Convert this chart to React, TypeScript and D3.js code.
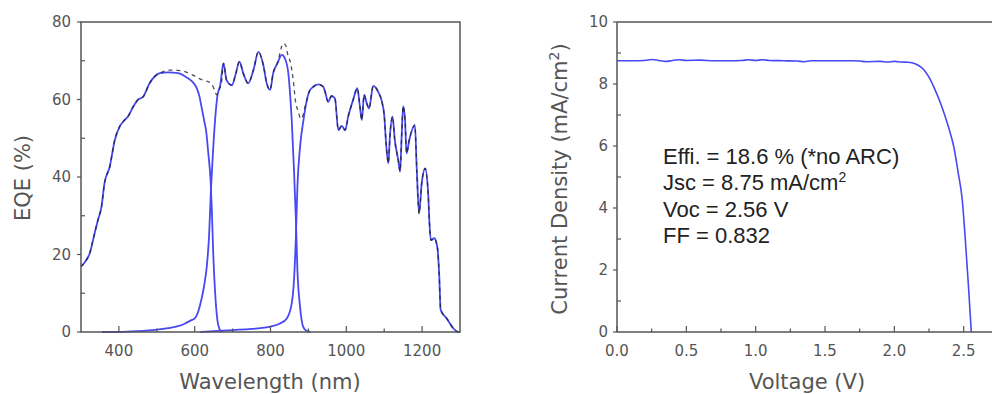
import React from "react";
import * as d3 from "d3";

// ---------- EQE data (wavelength nm, EQE %) ----------
const topWl = [300, 310, 323, 336, 345, 354, 362, 376, 389, 402, 413, 424, 437, 450, 464, 481, 495, 508, 530, 556, 582, 595, 605, 612, 618, 626, 630, 636, 642, 645, 649, 654, 660, 667, 675];
const topEqe = [16.9, 18, 20.3, 25.5, 29, 32.3, 38.4, 42.7, 49.5, 53, 54.5, 55.6, 58, 59.9, 60.7, 64.2, 66, 66.8, 67.0, 66.8, 65.5, 64.5, 63, 61, 58.1, 54, 52, 46, 39, 32, 20, 10, 3, 0.5, 0];

const midWl = [355, 400, 450, 500, 530, 556, 575, 590, 600, 610, 618, 625, 632, 638, 643, 648, 654, 660, 667, 676, 684, 698, 708, 718, 728, 741, 755, 768, 781, 790, 799, 807, 818, 830, 838, 847, 852, 856, 862, 867, 871, 878, 886, 895, 905];
const midEqe = [0, 0, 0.2, 0.6, 1, 1.5, 2.2, 3, 3.5, 5.5, 8.5, 12, 17, 25, 37, 46, 55, 61, 63.5, 69.3, 65, 63.7, 66.5, 69.8, 66.8, 64.2, 67.6, 72.3, 68.9, 64.2, 62.5, 66.8, 69.3, 71.5, 70.6, 66.8, 61, 54.7, 41.8, 28.9, 16, 6.5, 1.4, 0.3, 0];

const botWl = [615, 650, 700, 750, 800, 825, 843, 856, 862, 867, 871, 878, 887, 896, 902, 913, 926, 939, 944, 952, 961, 970, 979, 988, 997, 1005, 1018, 1029, 1036, 1041, 1047, 1054, 1060, 1071, 1084, 1095, 1100, 1105, 1111, 1115, 1122, 1128, 1137, 1142, 1146, 1150, 1155, 1159, 1166, 1181, 1186, 1192, 1199, 1208, 1216, 1219, 1223, 1232, 1240, 1245, 1249, 1265, 1282, 1295, 1300];
const botEqe = [0, 0.2, 0.5, 0.8, 1.4, 2.2, 3.5, 7.4, 13.4, 24.6, 37.5, 47.8, 54.7, 59.9, 62, 63.3, 63.9, 63.3, 62, 59.4, 60.9, 60.3, 52.1, 53.2, 52.1, 55.6, 59.9, 62.9, 58.1, 54.7, 61.2, 59, 57.7, 63.5, 62, 59, 56, 48.7, 43.5, 50.4, 55.6, 49.5, 44.4, 41.4, 50.4, 58.3, 54.7, 46.1, 49.5, 53.4, 41.8, 30.6, 38.4, 42.2, 35.8, 28.9, 23.7, 24.2, 22, 15.1, 5.7, 3.5, 1, 0, 0];

const totWl = [300, 310, 323, 336, 345, 354, 362, 376, 389, 402, 413, 424, 437, 450, 464, 481, 495, 508, 535, 556, 574, 595, 614, 630, 645, 652, 658, 664, 671, 676, 684, 698, 708, 718, 728, 741, 755, 768, 781, 790, 799, 807, 818, 834, 840, 847, 852, 860, 866, 873, 880, 886, 891, 896, 902, 913, 926, 939, 944, 952, 961, 970, 979, 988, 997, 1005, 1018, 1029, 1036, 1041, 1047, 1054, 1060, 1071, 1084, 1095, 1100, 1105, 1111, 1115, 1122, 1128, 1137, 1142, 1146, 1150, 1155, 1159, 1166, 1181, 1186, 1192, 1199, 1208, 1216, 1219, 1223, 1232, 1240, 1245, 1249, 1265, 1282, 1295, 1300];
const totEqe = [16.9, 18, 20.3, 25.5, 29, 32.3, 38.4, 42.7, 49.5, 53, 54.5, 55.6, 58, 59.9, 60.7, 64.2, 66, 66.8, 67.6, 67.5, 67.2, 66.3, 65.3, 64.8, 64, 62.5, 61.2, 62.5, 64.6, 69.3, 65, 63.7, 66.5, 69.8, 66.8, 64.2, 67.6, 72.3, 68.9, 64.2, 62.5, 66.8, 69.3, 74.5, 74, 71, 69.8, 65, 59.5, 57, 55, 56, 58.1, 59.9, 62, 63.3, 63.9, 63.3, 62, 59.4, 60.9, 60.3, 52.1, 53.2, 52.1, 55.6, 59.9, 62.9, 58.1, 54.7, 61.2, 59, 57.7, 63.5, 62, 59, 56, 48.7, 43.5, 50.4, 55.6, 49.5, 44.4, 41.4, 50.4, 58.3, 54.7, 46.1, 49.5, 53.4, 41.8, 30.6, 38.4, 42.2, 35.8, 28.9, 23.7, 24.2, 22, 15.1, 5.7, 3.5, 1, 0, 0];

// ---------- J-V data (V, mA/cm2) ----------
const jvV = [0, 0.1, 0.2, 0.25, 0.3, 0.35, 0.4, 0.45, 0.5, 0.6, 0.7, 0.8, 0.9, 0.95, 1.0, 1.05, 1.1, 1.2, 1.3, 1.35, 1.4, 1.5, 1.6, 1.7, 1.75, 1.8, 1.9, 1.95, 2.0, 2.05, 2.1, 2.15, 2.19, 2.22, 2.25, 2.29, 2.34, 2.39, 2.43, 2.46, 2.49, 2.51, 2.535, 2.555];
const jvJ = [8.75, 8.75, 8.76, 8.79, 8.76, 8.73, 8.76, 8.78, 8.76, 8.77, 8.75, 8.75, 8.76, 8.78, 8.76, 8.78, 8.76, 8.75, 8.74, 8.72, 8.75, 8.75, 8.75, 8.75, 8.74, 8.72, 8.73, 8.71, 8.73, 8.71, 8.70, 8.65, 8.55, 8.42, 8.22, 7.85, 7.3, 6.62, 5.95, 5.15, 4.25, 3.1, 1.45, 0];

// ---------- ticks ----------
const eqeXMajor = [400, 600, 800, 1000, 1200];
const eqeXMinor = [500, 700, 900, 1100];
const eqeYMajor = [0, 20, 40, 60, 80];
const eqeYMinor = [10, 30, 50, 70];
const jvXMajor = [0, 0.5, 1.0, 1.5, 2.0, 2.5];
const jvXMinor = [0.25, 0.75, 1.25, 1.75, 2.25, 2.75];
const jvYMajor = [0, 2, 4, 6, 8, 10];
const jvYMinor = [1, 3, 5, 7, 9];

const annotLines = ["Effi. = 18.6 % (*no ARC)", "Jsc = 8.75 mA/cm", "Voc = 2.56 V", "FF = 0.832"];

const AXIS = "#555";
const LABEL = "#555";
const BLUE = "#4848f4";
const FONT = "'DejaVu Sans', sans-serif";

export default function App() {
  // left panel
  const lx = d3.scaleLinear().domain([300, 1300]).range([81, 460]);
  const ly = d3.scaleLinear().domain([0, 80]).range([332, 22]);
  // right panel
  const rx = d3.scaleLinear().domain([0, 3]).range([617, 1033]);
  const ry = d3.scaleLinear().domain([0, 10]).range([332, 22]);

  const mk = (xs: number[], ys: number[], sx: any, sy: any) =>
    d3
      .line<number>()
      .curve(d3.curveMonotoneX)
      .x((i) => sx(xs[i]))
      .y((i) => sy(ys[i]))(ys.map((_, i) => i)) || "";

  const topPath = mk(topWl, topEqe, lx, ly);
  const midPath = mk(midWl, midEqe, lx, ly);
  const botPath = mk(botWl, botEqe, lx, ly);
  const totPath = mk(totWl, totEqe, lx, ly);
  const jvPath = mk(jvV, jvJ, rx, ry);

  return (
    <svg width={992} height={394} style={{ position: "absolute", left: 0, top: 0, background: "#fff" }}>
      <rect x={0} y={0} width={992} height={394} fill="#fff" />
      {/* ===== Left: EQE ===== */}
      <g>
        <path d={topPath} fill="none" stroke={BLUE} strokeWidth={1.8} />
        <path d={midPath} fill="none" stroke={BLUE} strokeWidth={1.8} />
        <path d={botPath} fill="none" stroke={BLUE} strokeWidth={1.8} />
        <path d={totPath} fill="none" stroke="#222" strokeWidth={1.3} strokeDasharray="4,4" opacity={0.8} />
        <rect x={81} y={22} width={379} height={310} fill="none" stroke={AXIS} strokeWidth={1.5} />
        {eqeXMajor.map((t) => (
          <g key={"lxm" + t}>
            <line x1={lx(t)} x2={lx(t)} y1={332} y2={326} stroke={AXIS} strokeWidth={1.2} />
            <text x={lx(t)} y={356} textAnchor="middle" fontSize={15} fontFamily={FONT} fill={LABEL}>{t}</text>
          </g>
        ))}
        {eqeXMinor.map((t) => (
          <line key={"lxn" + t} x1={lx(t)} x2={lx(t)} y1={332} y2={328.5} stroke={AXIS} strokeWidth={1.2} />
        ))}
        {eqeYMajor.map((t) => (
          <g key={"lym" + t}>
            <line x1={77} x2={81} y1={ly(t)} y2={ly(t)} stroke={AXIS} strokeWidth={1.2} />
            <text x={71} y={ly(t)} dy="0.35em" textAnchor="end" fontSize={15} fontFamily={FONT} fill={LABEL}>{t}</text>
          </g>
        ))}
        {eqeYMinor.map((t) => (
          <line key={"lyn" + t} x1={81} x2={85} y1={ly(t)} y2={ly(t)} stroke={AXIS} strokeWidth={1.2} />
        ))}
        <text x={270} y={389} textAnchor="middle" fontSize={21} fontFamily={FONT} fill={LABEL}>Wavelength (nm)</text>
        <text transform="translate(30,178) rotate(-90)" textAnchor="middle" fontSize={21} fontFamily={FONT} fill={LABEL}>EQE (%)</text>
      </g>

      {/* ===== Right: J-V ===== */}
      <g>
        <path d={jvPath} fill="none" stroke={BLUE} strokeWidth={1.6} />
        <line x1={617} x2={617} y1={22} y2={332} stroke={AXIS} strokeWidth={1.5} />
        <line x1={617} x2={1033} y1={22} y2={22} stroke={AXIS} strokeWidth={1.5} />
        <line x1={617} x2={1033} y1={332} y2={332} stroke={AXIS} strokeWidth={1.5} />
        {jvXMajor.map((t) => (
          <g key={"rxm" + t}>
            <line x1={rx(t)} x2={rx(t)} y1={332} y2={326} stroke={AXIS} strokeWidth={1.2} />
            <text x={rx(t)} y={356} textAnchor="middle" fontSize={15} fontFamily={FONT} fill={LABEL}>{t.toFixed(1)}</text>
          </g>
        ))}
        {jvXMinor.map((t) => (
          <line key={"rxn" + t} x1={rx(t)} x2={rx(t)} y1={332} y2={328.5} stroke={AXIS} strokeWidth={1.2} />
        ))}
        {jvYMajor.map((t) => (
          <g key={"rym" + t}>
            <line x1={613} x2={617} y1={ry(t)} y2={ry(t)} stroke={AXIS} strokeWidth={1.2} />
            <text x={608} y={ry(t)} dy="0.35em" textAnchor="end" fontSize={15} fontFamily={FONT} fill={LABEL}>{t}</text>
          </g>
        ))}
        {jvYMinor.map((t) => (
          <line key={"ryn" + t} x1={617} x2={621} y1={ry(t)} y2={ry(t)} stroke={AXIS} strokeWidth={1.2} />
        ))}
        <text x={807} y={389} textAnchor="middle" fontSize={21} fontFamily={FONT} fill={LABEL}>Voltage (V)</text>
        <text transform="translate(567,179) rotate(-90)" textAnchor="middle" fontSize={21} fontFamily={FONT} fill={LABEL}>
          Current Density (mA/cm<tspan fontSize={14} dy={-8}>2</tspan><tspan dy={8}>)</tspan>
        </text>
        {annotLines.map((s, i) => (
          <text key={"an" + i} x={663} y={164 + i * 26.3} fontSize={22} fontFamily="'Liberation Sans', Arial, sans-serif" fill="#222">
            {s}
            {i === 1 ? <tspan fontSize={14} dy={-8}>2</tspan> : null}
          </text>
        ))}
      </g>
    </svg>
  );
}
